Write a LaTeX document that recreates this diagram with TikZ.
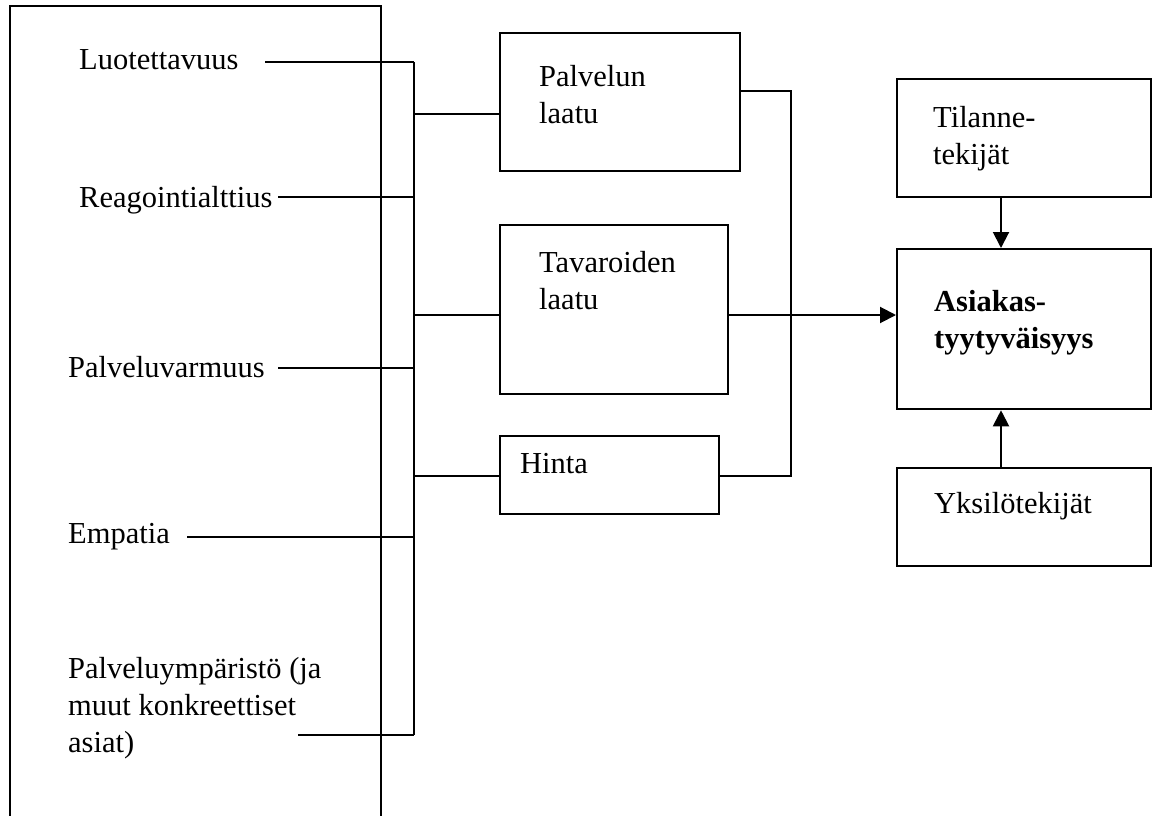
\documentclass[tikz,border=0pt]{standalone}
\usepackage{fontspec}
\setmainfont{Liberation Serif}
\usetikzlibrary{arrows.meta}
\begin{document}
\begin{tikzpicture}[x=1pt,y=-1pt,
  lbl/.style={anchor=base west,inner sep=0pt,font=\fontsize{30.5}{37}\selectfont,align=left},
  blbl/.style={lbl,font=\fontsize{30.5}{37}\selectfont\bfseries},
  frame/.style={draw,line width=2.3pt,inner sep=0pt,anchor=north west},
  wire/.style={line width=2pt},
  arr/.style={wire,-{Triangle[length=16pt,width=16pt]}}]
\useasboundingbox (0,0) rectangle (1154,816);
\clip (0,0) rectangle (1154,816);
\fill[white] (0,0) rectangle (1154,816);

% open frame around the quality dimensions
\draw[line width=2.3pt] (10,830) -- (10,6) -- (381,6) -- (381,830);

% quality dimension labels (multi-line nodes: base = last line)
\node[lbl] (luo) at (79,70) {Luotettavuus};
\node[lbl] (rea) at (79,207) {Reagointialttius};
\node[lbl] (pva) at (68,377) {Palveluvarmuus};
\node[lbl] (emp) at (68,543) {Empatia};
\node[lbl] (pym) at (68,752) {Palveluympäristö (ja\\muut konkreettiset\\asiat)};

% start points of the label leads
\coordinate (sLuo) at (265,62);
\coordinate (sRea) at (278,197);
\coordinate (sPva) at (278,368);
\coordinate (sEmp) at (187,537);
\coordinate (sPym) at (298,735);

% collecting bus
\coordinate (busTop) at (414,62);
\coordinate (busBot) at (414,735);
\coordinate (bPl) at (414,114);
\coordinate (bTl) at (414,315);
\coordinate (bHi) at (414,476);

% middle boxes
\node[frame,minimum width=240pt,minimum height=138pt] (pl) at (499,32) {};
\node[frame,minimum width=228pt,minimum height=169pt] (tl) at (499,224) {};
\node[frame,minimum width=219pt,minimum height=78pt] (hi) at (499,435) {};
\node[lbl] (plT) at (539,123) {Palvelun\\laatu};
\node[lbl] (tlT) at (539,309) {Tavaroiden\\laatu};
\node[lbl] (hiT) at (520,473) {Hinta};

% right column
\node[frame,minimum width=254pt,minimum height=118pt] (ti) at (896,78) {};
\node[frame,minimum width=254pt,minimum height=160pt] (as) at (896,248) {};
\node[frame,minimum width=254pt,minimum height=98pt] (yk) at (896,467) {};
\node[lbl] (tiT) at (933,164) {Tilanne-\\tekijät};
\node[blbl] (asT) at (934,348) {Asiakas-\\tyytyväisyys};
\node[lbl] (ykT) at (934,513) {Yksilötekijät};

% leads into the bus
\draw[wire] (sLuo) -- (busTop);
\draw[wire] (sRea) -- (sRea -| busTop);
\draw[wire] (sPva) -- (sPva -| busTop);
\draw[wire] (sEmp) -- (sEmp -| busTop);
\draw[wire] (sPym) -- (busBot);
\draw[wire] (busTop) -- (busBot);

% bus to middle boxes
\draw[wire] (bPl) -- (bPl -| pl.west);
\draw[wire] (bTl) -- (bTl -| tl.west);
\draw[wire] (bHi) -- (bHi -| hi.west);

% middle boxes to satisfaction
\coordinate (rPl) at (739,91);
\coordinate (rBus) at (791,91);
\draw[wire] (rPl) -- (rBus) -- (rBus |- bHi) -- (bHi -| hi.east);
\draw[arr] (bTl -| tl.east) -- (bTl -| as.west);

% situational and individual factors
\draw[arr] (ti.south -| 1001,0) -- (as.north -| 1001,0);
\draw[arr] (yk.north -| 1001,0) -- (as.south -| 1001,0);
\end{tikzpicture}
\end{document}
